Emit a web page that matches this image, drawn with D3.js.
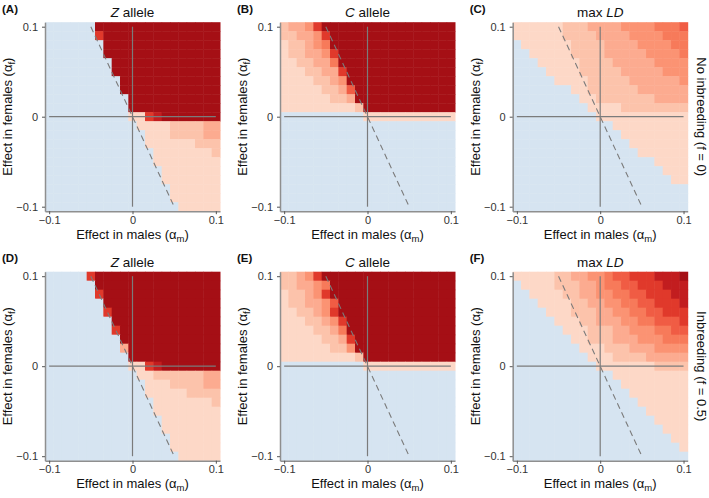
<!DOCTYPE html>
<html><head><meta charset="utf-8">
<script src="https://cdn.jsdelivr.net/npm/d3@7"></script>
<style>
body{margin:0;background:#fff}
svg{display:block}
text{font-family:"Liberation Sans",Arial,Helvetica,sans-serif}
</style>
</head><body>
<svg id="chart" width="709" height="498"></svg>
<script>
// ---- data ----
const alphaValues = [-0.1,-0.09,-0.08,-0.07,-0.06,-0.05,-0.04,-0.03,-0.02,-0.01,0,0.01,0.02,0.03,0.04,0.05,0.06,0.07,0.08,0.09,0.1];
const tickValues = [-0.1, 0, 0.1];
const tickLabels = ["\u22120.1", "0", "0.1"];
const panelLetters = [["(A)","(B)","(C)"],["(D)","(E)","(F)"]];
const panelTitles = [["Z"," allele"],["C"," allele"],["max ","LD"]];
const rowLabels = ["No inbreeding (f = 0)", "Inbreeding (f = 0.5)"];
const diagonal = [[-0.05, 0.1],[0.05, -0.1]];

// rows: top (alpha_f = 0.1) to bottom (alpha_f = -0.1); columns: alpha_m -0.1 .. 0.1
// 0 = no invasion (blue), 1..9 = increasing value
const gridZ0 = [
"000000999999999999999",
"000000799999999999999",
"000000099999999999999",
"000000099999999999999",
"000000009999999999999",
"000000009999999999999",
"000000000999999999999",
"000000000999999999999",
"000000000099999999999",
"000000000099999999999",
"000000000011789999999",
"000000000001111222233",
"000000000000111222233",
"000000000000111111222",
"000000000000011111112",
"000000000000011111111",
"000000000000001111111",
"000000000000001111111",
"000000000000000111111",
"000000000000000111111",
"000000000000000011111"];
const gridC0 = [
"233479999999999999999",
"223347999999999999999",
"122345999999999999999",
"122334799999999999999",
"112233599999999999999",
"111223379999999999999",
"111122349999999999999",
"111112236999999999999",
"111111223999999999999",
"111111111299999999999",
"000000000011111111111",
"000000000000000000000",
"000000000000000000000",
"000000000000000000000",
"000000000000000000000",
"000000000000000000000",
"000000000000000000000",
"000000000000000000000",
"000000000000000000000",
"000000000000000000000",
"000000000000000000000"];
const gridLD0 = [
"111111222333344445556",
"111111222233334444555",
"011111122223333444455",
"001111122223333344445",
"000111112222333334444",
"000011112222233333444",
"000001111222223333334",
"000000011222222333333",
"000000001122222223333",
"000000000111122222222",
"000000000011111111111",
"000000000000111111111",
"000000000000011111111",
"000000000000001111111",
"000000000000000111111",
"000000000000000001111",
"000000000000000000111",
"000000000000000000011",
"000000000000000000000",
"000000000000000000000",
"000000000000000000000"];
const gridZ5 = [
"000007999999999999999",
"000000999999999999999",
"000000799999999999999",
"000000099999999999999",
"000000079999999999999",
"000000009999999999999",
"000000007999999999999",
"000000000999999999999",
"000000000399999999999",
"000000000099999999999",
"000000000011789999999",
"000000000001122222233",
"000000000000111222233",
"000000000000111112222",
"000000000000011111112",
"000000000000011111111",
"000000000000001111111",
"000000000000001111111",
"000000000000000111111",
"000000000000000111111",
"000000000000000011111"];
const gridC5 = [
"223479999999999999999",
"223345999999999999999",
"122347999999999999999",
"122334699999999999999",
"112234799999999999999",
"111223479999999999999",
"111122359999999999999",
"111112237999999999999",
"111111224999999999999",
"111111111299999999999",
"000000000011111111111",
"000000000000000000000",
"000000000000000000000",
"000000000000000000000",
"000000000000000000000",
"000000000000000000000",
"000000000000000000000",
"000000000000000000000",
"000000000000000000000",
"000000000000000000000",
"000000000000000000000"];
const gridLD5 = [
"111112233445667778889",
"011112223345566777888",
"001111223344556677788",
"000111122334455667778",
"000011122233445566777",
"000001112233344556667",
"000000111222334445566",
"000000011222333444555",
"000000001112223334444",
"000000000111222233333",
"000000000011111112222",
"000000000000111111111",
"000000000000011111111",
"000000000000001111111",
"000000000000000111111",
"000000000000000011111",
"000000000000000001111",
"000000000000000000111",
"000000000000000000011",
"000000000000000000001",
"000000000000000000000"];

// ---- styles ----
const levelColors = ["#d6e4f1","#fdd8c7","#fcc3ab","#fcab90","#fb9373","#f77a5a","#f05c44","#e0392b","#c21d1f","#a50f15"];
const lineGrey = "#7b7b7b";

// ---- layout ----
const W = 175, H = 189;
const lefts = [45, 280, 512.7];
const tops = [22.2, 271.7];
const x = d3.scaleLinear().domain([-0.105, 0.105]).range([0, W]);
const y = d3.scaleLinear().domain([-0.105, 0.105]).range([H, 0]);
const svg = d3.select("#chart");
const grids = [[gridZ0, gridC0, gridLD0], [gridZ5, gridC5, gridLD5]];
const half = 0.005;

grids.forEach((row, ri) => row.forEach((grid, ci) => {
  const g = svg.append("g").attr("transform", `translate(${lefts[ci]},${tops[ri]})`);
  const cells = [];
  grid.forEach((s, i) => {
    for (let j = 0; j < alphaValues.length; j++) {
      cells.push({am: alphaValues[j], af: alphaValues[alphaValues.length - 1 - i], lvl: +s[j]});
    }
  });
  g.append("g").selectAll("rect").data(cells).join("rect")
    .attr("x", d => x(d.am - half))
    .attr("y", d => y(d.af + half))
    .attr("width", d => x(d.am + half) - x(d.am - half) + 0.5)
    .attr("height", d => y(d.af - half) - y(d.af + half) + 0.5)
    .attr("fill", d => levelColors[d.lvl]);

  // reference lines
  g.append("line").attr("x1", x(0)).attr("x2", x(0)).attr("y1", y(-0.1)).attr("y2", y(0.1))
    .attr("stroke", lineGrey).attr("stroke-width", 1.2);
  g.append("line").attr("x1", x(-0.1)).attr("x2", x(0.1)).attr("y1", y(0)).attr("y2", y(0))
    .attr("stroke", lineGrey).attr("stroke-width", 1.2);
  g.append("path").datum(diagonal)
    .attr("d", d3.line().x(d => x(d[0])).y(d => y(d[1])))
    .attr("fill", "none").attr("stroke", lineGrey).attr("stroke-width", 1.1)
    .attr("stroke-dasharray", "6,4");

  // axes
  const fmt = d => tickLabels[tickValues.indexOf(d)];
  const ya = g.append("g").call(d3.axisLeft(y).tickValues(tickValues).tickFormat(fmt).tickSize(3).tickSizeOuter(0).tickPadding(4));
  const xa = g.append("g").attr("transform", `translate(0,${H})`)
    .call(d3.axisBottom(x).tickValues(tickValues).tickFormat(fmt).tickSize(3).tickSizeOuter(0).tickPadding(2));
  [ya, xa].forEach(a => {
    a.select(".domain").attr("stroke", "#8f8f8f").attr("stroke-width", 1.5);
    a.selectAll(".tick line").attr("stroke", "#555");
    a.selectAll(".tick text").attr("fill", "#333").style("font-size", "11px").style("font-family", "'Liberation Sans',Arial,sans-serif");
  });

  // axis titles
  const xt = g.append("text").attr("x", W / 2).attr("y", H + 27.5).attr("text-anchor", "middle")
    .style("font-size", "13px").attr("fill", "#111");
  xt.append("tspan").text("Effect in males (\u03b1");
  xt.append("tspan").text("m").style("font-size", "9.5px").attr("dy", 3);
  xt.append("tspan").text(")").attr("dy", -3);

  const yt = g.append("text").attr("transform", `translate(-33,${H / 2}) rotate(-90)`)
    .attr("text-anchor", "middle").style("font-size", "13px").attr("fill", "#111");
  yt.append("tspan").text("Effect in females (\u03b1");
  yt.append("tspan").text("f").style("font-size", "9.5px").attr("dy", 3);
  yt.append("tspan").text(")").attr("dy", -3);

  // panel title
  const tt = g.append("text").attr("x", W / 2).attr("y", -5).attr("text-anchor", "middle")
    .style("font-size", "13.5px").attr("fill", "#111");
  const pt = panelTitles[ci];
  if (ci < 2) {
    tt.append("tspan").text(pt[0]).style("font-style", "italic");
    tt.append("tspan").text(pt[1]);
  } else {
    tt.append("tspan").text(pt[0]);
    tt.append("tspan").text(pt[1]).style("font-style", "italic");
  }

  // panel letter
  svg.append("text").attr("x", lefts[ci] - 43).attr("y", tops[ri] - 9.5)
    .style("font-size", "11.5px").style("font-weight", "bold").attr("fill", "#111")
    .text(panelLetters[ri][ci]);

  // row strip label
  if (ci === 2) {
    svg.append("text").attr("transform", `translate(697,${tops[ri] + H / 2}) rotate(90)`)
      .attr("text-anchor", "middle").style("font-size", "13px").attr("fill", "#111")
      .text(rowLabels[ri]);
  }
}));
</script>
</body></html>
